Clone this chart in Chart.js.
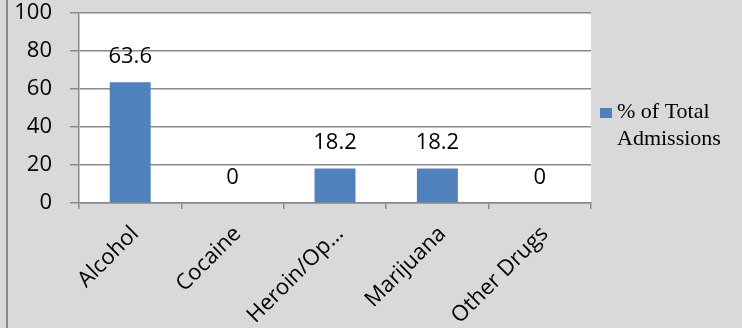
<!DOCTYPE html>
<html>
<head>
<meta charset="utf-8">
<script src="https://cdn.jsdelivr.net/npm/chart.js@4.4.1/dist/chart.umd.min.js"></script>
<style>
  html, body { margin:0; padding:0; background:#d9d9d9; }
  #wrap { width:742px; height:328px; position:relative; }
</style>
</head>
<body>
<div id="wrap"><canvas id="chart" width="742" height="328"></canvas></div>
<script>
// categories + values
const CATEGORIES = ['Alcohol', 'Cocaine', 'Heroin/Op...', 'Marijuana', 'Other Drugs'];
const ADMISSIONS = [63.6, 0, 18.2, 18.2, 0];
const SERIES_LABEL = ['% of Total', 'Admissions'];
const Y_TICKS = [0, 20, 40, 60, 80, 100];

const BAR_COLOR = '#4f81bd';
const GRID = '#8a8a8a';
const SANS = '"Open Sans", sans-serif';
const FONT_SIZE = 22;

// paint gray panel, white plot area and left frame line
const frame = {
  id: 'frame',
  beforeDraw(chart) {
    const { ctx, chartArea: a } = chart;
    ctx.save();
    ctx.fillStyle = '#d9d9d9';
    ctx.fillRect(0, 0, chart.width, chart.height);
    ctx.fillStyle = '#ffffff';
    ctx.fillRect(a.left, a.top, a.right - a.left, a.bottom - a.top);
    ctx.fillStyle = '#8a8a8a';
    ctx.fillRect(6, 0, 2, chart.height);
    ctx.restore();
  }
};

// value labels above each bar
const valueLabels = {
  id: 'valueLabels',
  afterDatasetsDraw(chart) {
    const { ctx } = chart;
    const meta = chart.getDatasetMeta(0);
    ctx.save();
    ctx.font = FONT_SIZE + 'px ' + SANS;
    ctx.fillStyle = '#000';
    ctx.textAlign = 'center';
    ctx.textBaseline = 'alphabetic';
    meta.data.forEach((bar, i) => {
      ctx.fillText(String(ADMISSIONS[i]), bar.x, bar.y - 19);
    });
    ctx.restore();
  }
};

// two-line legend at the right side
const sideLegend = {
  id: 'sideLegend',
  afterDraw(chart) {
    const { ctx } = chart;
    ctx.save();
    ctx.fillStyle = BAR_COLOR;
    ctx.fillRect(600, 108, 12, 10);
    ctx.fillStyle = '#000';
    ctx.font = '22px "Liberation Serif", serif';
    ctx.textBaseline = 'alphabetic';
    ctx.fillText(SERIES_LABEL[0], 617, 118);
    ctx.fillText(SERIES_LABEL[1], 617, 145);
    ctx.restore();
  }
};

new Chart(document.getElementById('chart'), {
  type: 'bar',
  data: {
    labels: CATEGORIES,
    datasets: [{
      label: SERIES_LABEL.join(' '),
      data: ADMISSIONS,
      backgroundColor: BAR_COLOR,
      categoryPercentage: 1,
      barPercentage: 0.4
    }]
  },
  options: {
    responsive: false,
    animation: false,
    layout: { padding: { left: 0, right: 151, top: 13, bottom: 0 } },
    plugins: { legend: { display: false }, tooltip: { enabled: false } },
    scales: {
      x: {
        grid: { display: true, drawOnChartArea: false, color: GRID, tickLength: 6, lineWidth: 1.5 },
        border: { display: true, color: GRID, width: 1.5 },
        ticks: { color: '#000', font: { family: SANS, size: FONT_SIZE }, maxRotation: 45, minRotation: 45, padding: 12, labelOffset: 5 },
        afterFit(scale) { scale.height = 125; scale.paddingLeft = 0; scale.paddingRight = 0; }
      },
      y: {
        min: 0, max: 100,
        afterBuildTicks(scale) { scale.ticks = Y_TICKS.map(v => ({ value: v })); },
        grid: { color: GRID, tickLength: 9, lineWidth: 1.5 },
        border: { display: true, color: GRID, width: 1.5 },
        ticks: { color: '#000', font: { family: SANS, size: FONT_SIZE }, padding: 18 },
        afterFit(scale) { scale.width = 79; scale.paddingTop = 0; scale.paddingBottom = 0; }
      }
    }
  },
  plugins: [frame, valueLabels, sideLegend]
});
</script>
</body>
</html>
